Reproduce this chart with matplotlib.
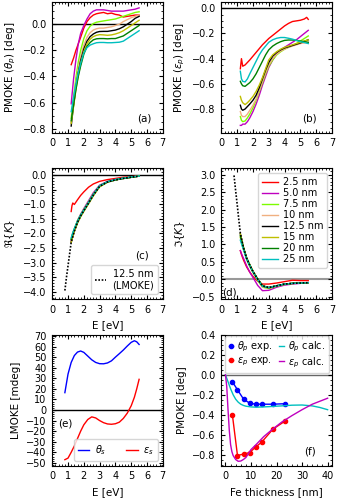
import numpy as np
import matplotlib.pyplot as plt

plt.rcParams['font.size'] = 7
plt.rcParams['axes.labelsize'] = 7.5
plt.rcParams['mathtext.fontset'] = 'dejavusans'

thickness_labels = ['2.5 nm', '5.0 nm', '7.5 nm', '10 nm', '12.5 nm', '15 nm', '20 nm', '25 nm']
colors = ['r', 'm', 'lawngreen', '#f0b080', 'k', 'y', 'g', 'c']

# (a) PMOKE theta_p vs photon energy
E_a = [1.2, 1.35, 1.5, 1.65, 1.8, 2.0, 2.2, 2.4, 2.6, 2.8, 3.0, 3.25, 3.5, 3.75, 4.0, 4.25, 4.5, 4.75, 5.0, 5.25, 5.5]
theta_p = [
    [-0.31, -0.26, -0.2, -0.15, -0.1, -0.03, 0.02, 0.05, 0.07, 0.08, 0.085, 0.09, 0.08, 0.085, 0.075, 0.07, 0.055, 0.06, 0.065, 0.07, 0.07],
    [-0.61, -0.42, -0.27, -0.15, -0.07, -0.01, 0.04, 0.08, 0.1, 0.11, 0.11, 0.11, 0.105, 0.1, 0.1, 0.1, 0.1, 0.105, 0.11, 0.115, 0.125],
    [-0.72, -0.56, -0.41, -0.29, -0.2, -0.11, -0.05, -0.015, 0.005, 0.015, 0.02, 0.025, 0.03, 0.035, 0.04, 0.05, 0.06, 0.07, 0.08, 0.09, 0.095],
    [-0.75, -0.6, -0.45, -0.34, -0.25, -0.16, -0.1, -0.065, -0.045, -0.035, -0.03, -0.03, -0.025, -0.02, -0.01, 0.0, 0.02, 0.035, 0.05, 0.06, 0.07],
    [-0.78, -0.62, -0.48, -0.37, -0.28, -0.19, -0.13, -0.095, -0.075, -0.062, -0.056, -0.055, -0.055, -0.05, -0.045, -0.035, -0.02, 0.0, 0.02, 0.045, 0.06],
    [-0.76, -0.63, -0.5, -0.39, -0.3, -0.21, -0.15, -0.115, -0.095, -0.085, -0.08, -0.082, -0.085, -0.082, -0.075, -0.065, -0.05, -0.03, -0.01, 0.01, 0.03],
    [-0.74, -0.62, -0.5, -0.4, -0.32, -0.23, -0.17, -0.14, -0.12, -0.112, -0.11, -0.11, -0.112, -0.11, -0.11, -0.1, -0.09, -0.07, -0.05, -0.03, -0.01],
    [-0.67, -0.56, -0.46, -0.37, -0.3, -0.22, -0.18, -0.16, -0.15, -0.142, -0.14, -0.14, -0.142, -0.142, -0.14, -0.138, -0.13, -0.11, -0.09, -0.07, -0.05],
]

# (b) PMOKE eps_p vs photon energy
E_b = [1.2, 1.27, 1.35, 1.5, 1.65, 1.8, 2.0, 2.2, 2.4, 2.6, 2.8, 3.0, 3.25, 3.5, 3.75, 4.0, 4.25, 4.5, 4.75, 5.0, 5.25, 5.4, 5.5]
eps_p = [
    [-0.48, -0.40, -0.46, -0.45, -0.43, -0.41, -0.38, -0.35, -0.32, -0.29, -0.265, -0.24, -0.215, -0.19, -0.165, -0.14, -0.12, -0.105, -0.1, -0.095, -0.085, -0.072, -0.088],
    [-0.93, -0.93, -0.92, -0.92, -0.9, -0.87, -0.82, -0.76, -0.69, -0.61, -0.54, -0.47, -0.41, -0.36, -0.33, -0.31, -0.29, -0.27, -0.25, -0.225, -0.2, -0.185, -0.175],
    [-0.86, -0.89, -0.9, -0.895, -0.87, -0.84, -0.79, -0.73, -0.66, -0.59, -0.52, -0.46, -0.41, -0.37, -0.345, -0.325, -0.31, -0.295, -0.28, -0.26, -0.24, -0.228, -0.22],
    [-0.82, -0.85, -0.86, -0.86, -0.84, -0.81, -0.77, -0.72, -0.65, -0.58, -0.51, -0.45, -0.4, -0.365, -0.34, -0.325, -0.31, -0.3, -0.29, -0.28, -0.275, -0.272, -0.27],
    [-0.77, -0.8, -0.81, -0.8, -0.78, -0.76, -0.73, -0.69, -0.63, -0.56, -0.49, -0.43, -0.38, -0.35, -0.33, -0.315, -0.305, -0.295, -0.285, -0.275, -0.262, -0.255, -0.25],
    [-0.7, -0.73, -0.75, -0.765, -0.75, -0.73, -0.7, -0.66, -0.61, -0.55, -0.48, -0.41, -0.37, -0.345, -0.325, -0.31, -0.3, -0.29, -0.28, -0.27, -0.26, -0.255, -0.25],
    [-0.58, -0.6, -0.615, -0.62, -0.605, -0.59, -0.56, -0.52, -0.47, -0.42, -0.37, -0.33, -0.3, -0.28, -0.265, -0.255, -0.252, -0.252, -0.255, -0.26, -0.265, -0.268, -0.27],
    [-0.5, -0.56, -0.58, -0.585, -0.56, -0.52, -0.47, -0.42, -0.37, -0.33, -0.3, -0.27, -0.25, -0.238, -0.232, -0.232, -0.238, -0.245, -0.255, -0.265, -0.272, -0.277, -0.28],
]

# (c), (d) real / imaginary part of K
E_K = [1.2, 1.25, 1.3, 1.4, 1.6, 1.8, 2.0, 2.3, 2.6, 3.0, 3.5, 4.0, 4.5, 5.0, 5.5]
re_K = [
    [-1.25, -1.05, -0.96, -1.01, -0.85, -0.7, -0.58, -0.42, -0.31, -0.22, -0.16, -0.12, -0.08, -0.06, -0.03],
    [-2.25, -2.15, -2.05, -1.87, -1.56, -1.34, -1.15, -0.88, -0.61, -0.35, -0.22, -0.15, -0.11, -0.07, -0.04],
    [-2.2, -2.1, -2.0, -1.84, -1.56, -1.36, -1.18, -0.92, -0.65, -0.37, -0.23, -0.16, -0.11, -0.07, -0.04],
    [-2.25, -2.15, -2.05, -1.88, -1.6, -1.39, -1.21, -0.95, -0.68, -0.38, -0.24, -0.17, -0.12, -0.08, -0.04],
    [-2.3, -2.2, -2.1, -1.92, -1.62, -1.4, -1.22, -0.96, -0.69, -0.39, -0.24, -0.17, -0.12, -0.08, -0.04],
    [-2.3, -2.2, -2.1, -1.93, -1.65, -1.43, -1.25, -0.99, -0.72, -0.41, -0.25, -0.17, -0.12, -0.08, -0.04],
    [-2.2, -2.1, -2.0, -1.86, -1.6, -1.39, -1.21, -0.95, -0.68, -0.38, -0.24, -0.17, -0.12, -0.08, -0.04],
    [-2.15, -2.06, -1.98, -1.83, -1.58, -1.37, -1.2, -0.94, -0.67, -0.37, -0.23, -0.16, -0.11, -0.07, -0.04],
]
im_K = [
    [0.82, 0.74, 0.67, 0.55, 0.35, 0.2, 0.08, -0.06, -0.14, -0.14, -0.11, -0.07, -0.03, -0.04, -0.04],
    [0.82, 0.76, 0.7, 0.6, 0.38, 0.2, 0.05, -0.18, -0.33, -0.32, -0.23, -0.17, -0.14, -0.12, -0.1],
    [1.2, 1.1, 1.0, 0.85, 0.56, 0.36, 0.19, -0.04, -0.23, -0.27, -0.2, -0.15, -0.12, -0.11, -0.1],
    [1.22, 1.12, 1.02, 0.87, 0.58, 0.38, 0.2, -0.03, -0.22, -0.26, -0.2, -0.15, -0.13, -0.11, -0.1],
    [1.3, 1.2, 1.1, 0.9, 0.6, 0.4, 0.22, 0.0, -0.19, -0.24, -0.19, -0.14, -0.12, -0.11, -0.1],
    [1.3, 1.2, 1.1, 0.92, 0.62, 0.42, 0.24, 0.01, -0.18, -0.24, -0.19, -0.14, -0.12, -0.11, -0.1],
    [1.25, 1.15, 1.06, 0.9, 0.6, 0.4, 0.22, 0.0, -0.2, -0.25, -0.19, -0.14, -0.12, -0.11, -0.1],
    [1.12, 1.05, 0.98, 0.85, 0.58, 0.39, 0.21, -0.01, -0.2, -0.24, -0.19, -0.14, -0.12, -0.11, -0.1],
]
# 12.5 nm from LMOKE
E_L = [0.8, 0.9, 1.0, 1.1, 1.2, 1.4, 1.6, 1.8, 2.0, 2.3, 2.6, 3.0, 3.5, 4.0, 4.5, 5.0, 5.5]
re_K_lmoke = [-3.95, -3.5, -3.1, -2.7, -2.3, -1.92, -1.62, -1.4, -1.22, -0.96, -0.69, -0.39, -0.24, -0.17, -0.12, -0.08, -0.04]
im_K_lmoke = [2.98, 2.55, 2.15, 1.72, 1.32, 0.9, 0.6, 0.4, 0.22, 0.0, -0.19, -0.24, -0.19, -0.14, -0.12, -0.11, -0.1]

# (e) LMOKE spectra
E_s = [0.8, 1.0, 1.2, 1.4, 1.6, 1.8, 2.0, 2.25, 2.5, 2.75, 3.0, 3.25, 3.5, 3.75, 4.0, 4.25, 4.5, 4.75, 5.0, 5.2, 5.35, 5.5]
theta_s = [16.4, 34, 45, 51.5, 54.8, 55.8, 54.5, 51, 47.5, 45, 43.8, 43.7, 44.5, 46.5, 50, 53.3, 56.7, 60.5, 64, 65.5, 64.5, 62]
eps_s = [-47, -45.5, -40, -34, -27, -20, -14, -9, -6.5, -7.5, -10, -12, -13.2, -13.5, -13, -11.5, -8, -3, 4, 12, 20, 29]

# (f) thickness dependence
t_exp = [2.7, 4.7, 7.1, 9.5, 11.8, 14.2, 18.6, 23.3]
theta_p_exp = [-0.07, -0.15, -0.245, -0.285, -0.295, -0.295, -0.295, -0.29]
eps_p_exp = [-0.40, -0.81, -0.795, -0.78, -0.725, -0.675, -0.545, -0.465]
t_calc = [0, 0.5, 1, 1.5, 2, 2.5, 3, 4, 5, 6, 7, 8, 10, 12, 15, 18, 22, 26, 30, 34, 37, 40]
theta_p_calc = [0.0, -0.035, -0.07, -0.105, -0.14, -0.17, -0.2, -0.245, -0.275, -0.295, -0.307, -0.315, -0.322, -0.325, -0.322, -0.318, -0.312, -0.305, -0.303, -0.312, -0.328, -0.35]
eps_p_calc = [0.0, -0.12, -0.35, -0.56, -0.7, -0.77, -0.81, -0.85, -0.868, -0.865, -0.85, -0.83, -0.75, -0.7, -0.62, -0.555, -0.475, -0.41, -0.35, -0.295, -0.265, -0.235]

fig, axs = plt.subplots(3, 2, figsize=(3.37, 5.0), dpi=100)
fig.subplots_adjust(left=0.155, right=0.985, top=0.996, bottom=0.069, wspace=0.53, hspace=0.275)
ax_a, ax_b = axs[0]
ax_c, ax_d = axs[1]
ax_e, ax_f = axs[2]

for ax in [ax_a, ax_b, ax_c, ax_d, ax_e]:
    ax.set_xlim(0, 7)
    ax.set_xticks(range(8))

lw = 1.0
for i in range(8):
    ax_a.plot(E_a, theta_p[i], color=colors[i], lw=lw)
    ax_b.plot(E_b, eps_p[i], color=colors[i], lw=lw)
    ax_c.plot(E_K, re_K[i], color=colors[i], lw=lw)
    ax_d.plot(E_K, im_K[i], color=colors[i], lw=lw, label=thickness_labels[i])

# (a)
ax_a.axhline(0, color='k', lw=1, zorder=1)
ax_a.set_ylim(-0.83, 0.17)
ax_a.set_yticks(np.arange(-0.8, 0.01, 0.2))
ax_a.set_ylabel(r'PMOKE ($\theta_p$) [deg]')
ax_a.text(0.83, 0.11, '(a)', transform=ax_a.transAxes, ha='center', va='center', fontsize=7.5)

# (b)
ax_b.axhline(0, color='k', lw=1, zorder=1)
ax_b.set_ylim(-0.987, 0.05)
ax_b.set_yticks(np.arange(-0.8, 0.01, 0.2))
ax_b.set_ylabel(r'PMOKE ($\varepsilon_p$) [deg]')
ax_b.text(0.8, 0.11, '(b)', transform=ax_b.transAxes, ha='center', va='center', fontsize=7.5)

# (c)
ax_c.axhline(0, color='k', lw=1, zorder=1)
ax_c.plot(E_L, re_K_lmoke, color='k', ls=(0, (1, 1)), lw=1.2, label='12.5 nm\n(LMOKE)')
ax_c.set_ylim(-4.24, 0.22)
ax_c.set_yticks(np.arange(-4.0, 0.01, 0.5))
ax_c.set_ylabel(r'$\Re\{K\}$')
ax_c.set_xlabel('E [eV]')
leg = ax_c.legend(loc='lower right', handlelength=1.2, handletextpad=0.6, fontsize=7)
for txt in leg.get_texts():
    txt.set_multialignment('center')
ax_c.text(0.81, 0.33, '(c)', transform=ax_c.transAxes, ha='center', va='center', fontsize=7.5)

# (d)
ax_d.axhline(0, color='0.6', lw=1.5, zorder=1)
ax_d.plot(E_L, im_K_lmoke, color='k', ls=(0, (1, 1)), lw=1.2)
ax_d.set_ylim(-0.57, 3.18)
ax_d.set_yticks(np.arange(-0.5, 3.01, 0.5))
ax_d.set_ylabel(r'$\Im\{K\}$')
ax_d.set_xlabel('E [eV]')
ax_d.legend(loc='upper right', handlelength=1.6, handletextpad=0.5, labelspacing=0.1, fontsize=7)
ax_d.text(0.01, 0.01, '(d)', transform=ax_d.transAxes, ha='left', va='bottom', fontsize=7.5)

# (e)
ax_e.axhline(0, color='k', lw=1, zorder=1)
ax_e.plot(E_s, theta_s, color='b', lw=lw, label=r'$\theta_s$')
ax_e.plot(E_s, eps_s, color='r', lw=lw, label=r'$\varepsilon_s$')
ax_e.set_ylim(-52.5, 71)
ax_e.set_yticks(range(-50, 71, 10))
ax_e.set_ylabel('LMOKE [mdeg]')
ax_e.set_xlabel('E [eV]')
ax_e.legend(loc='lower right', ncol=2, handlelength=1.2, handletextpad=0.6, columnspacing=2.0, fontsize=7)
ax_e.text(0.055, 0.32, '(e)', transform=ax_e.transAxes, ha='left', va='center', fontsize=7.5)

# (f)
ax_f.axhline(0, color='0.4', lw=1, zorder=1)
ax_f.plot(t_exp, theta_p_exp, 'o-', color='b', ms=3, lw=lw, label=r'$\theta_p$ exp.')
ax_f.plot(t_exp, eps_p_exp, 'o-', color='r', ms=3, lw=lw, label=r'$\varepsilon_p$ exp.')
ax_f.plot(t_calc, theta_p_calc, color='c', lw=lw, label=r'$\theta_p$ calc.')
ax_f.plot(t_calc, eps_p_calc, color='m', lw=lw, label=r'$\varepsilon_p$ calc.')
ax_f.set_xlim(-1.6, 41.7)
ax_f.set_ylim(-0.91, 0.4)
ax_f.set_xticks([0, 10, 20, 30, 40])
ax_f.set_yticks(np.arange(-0.8, 0.41, 0.2))
ax_f.set_ylabel('PMOKE [deg]')
ax_f.set_xlabel('Fe thickness [nm]')
ax_f.legend(loc='upper center', ncol=2, handlelength=0.5, handletextpad=0.4, columnspacing=0.6,
            labelspacing=0.1, borderaxespad=0.1, fontsize=7)
ax_f.text(0.8, 0.11, '(f)', transform=ax_f.transAxes, ha='center', va='center', fontsize=7.5)

for ax in axs.flat:
    ax.minorticks_on()
    ax.tick_params(which='both', direction='in', top=True, right=True, pad=4, labelsize=7)
    ax.tick_params(which='minor', length=1.5)
    ax.tick_params(which='major', length=3)

plt.savefig('out.png', dpi=100)
